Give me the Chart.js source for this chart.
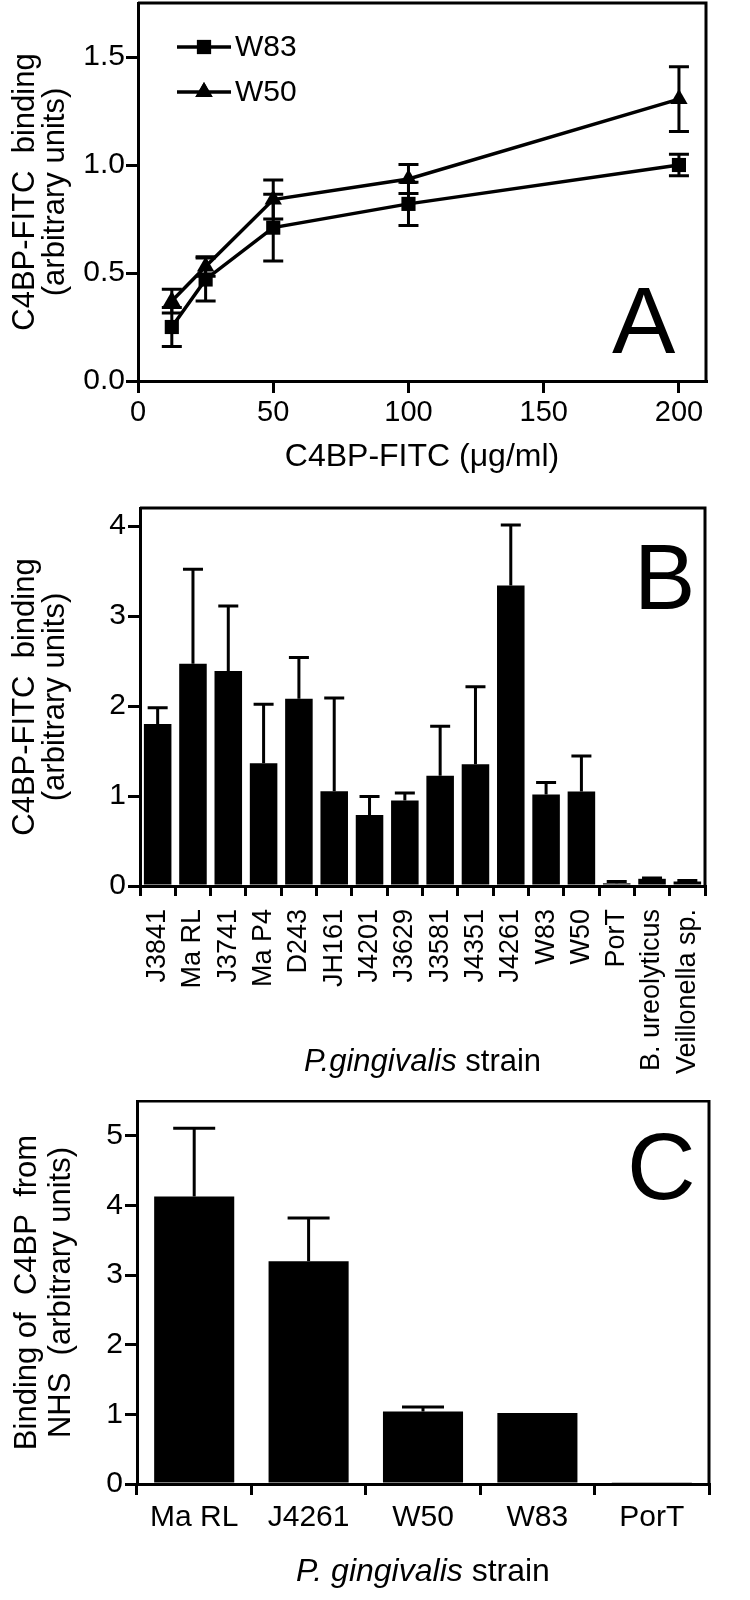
<!DOCTYPE html>
<html><head><meta charset="utf-8">
<script src="https://cdn.jsdelivr.net/npm/chart.js@4.4.0/dist/chart.umd.min.js"></script>
<style>
html,body{margin:0;padding:0;background:#fff;}
#wrap{position:relative;width:750px;height:1600px;background:#fff;}
canvas{position:absolute;left:0;}
</style></head><body>
<div id="wrap">
<canvas id="cA" width="750" height="480" style="top:0px"></canvas>
<canvas id="cB" width="750" height="620" style="top:480px"></canvas>
<canvas id="cC" width="750" height="500" style="top:1100px"></canvas>
</div>
<script>
// ---------- Panel A data ----------
const concA = [12.5, 25, 50, 100, 200];
const w83A = [0.25, 0.47, 0.71, 0.82, 1.00];
const w83ErrA = [0.09, 0.10, 0.155, 0.10, 0.05];
const w50A = [0.37, 0.53, 0.84, 0.935, 1.305];
const w50ErrA = [0.055, 0.045, 0.09, 0.067, 0.15];
const xTicksA = [0, 50, 100, 150, 200];
const yTicksA = [0, 0.5, 1.0, 1.5];
const yTickLabelsA = ['0.0', '0.5', '1.0', '1.5'];

// ---------- Panel B data ----------
const strainsB = ['J3841','Ma RL','J3741','Ma P4','D243','JH161','J4201','J3629','J3581','J4351','J4261','W83','W50','PorT','B. ureolyticus','Veillonella sp.'];
const bindB = [1.80, 2.47, 2.39, 1.365, 2.08, 1.054, 0.79, 0.95, 1.225, 1.353, 3.34, 1.018, 1.05, 0.03, 0.08, 0.05];
const errB  = [0.18, 1.05, 0.72, 0.655, 0.46, 1.036, 0.204, 0.084, 0.551, 0.862, 0.67, 0.132, 0.395, 0.02, 0.01, 0.01];
const yTicksB = [0, 1, 2, 3, 4];

// ---------- Panel C data ----------
const strainsC = ['Ma RL','J4261','W50','W83','PorT'];
const bindC = [4.13, 3.20, 1.04, 1.02, 0.026];
const errC  = [0.98, 0.62, 0.065, 0, 0];
const yTicksC = [0, 1, 2, 3, 4, 5];

const F = '"Liberation Sans", Arial, Helvetica, sans-serif';
const BLACK = '#000';

const boxPlugin = {
  id: 'box',
  afterDraw(chart) {
    const {ctx, chartArea: a} = chart;
    ctx.save();
    ctx.strokeStyle = BLACK; ctx.lineWidth = 3;
    ctx.beginPath();
    ctx.moveTo(a.left, a.top); ctx.lineTo(a.right, a.top); ctx.lineTo(a.right, a.bottom);
    ctx.stroke();
    ctx.restore();
  }
};

const errPlugin = {
  id: 'errbars',
  afterDatasetsDraw(chart) {
    const ctx = chart.ctx, ys = chart.scales.y;
    chart.data.datasets.forEach((ds, i) => {
      if (!ds.errors) return;
      const meta = chart.getDatasetMeta(i);
      ctx.save();
      ctx.strokeStyle = BLACK; ctx.lineWidth = 3;
      meta.data.forEach((el, j) => {
        const raw = ds.data[j];
        const v = (typeof raw === 'object') ? raw.y : raw;
        const e = ds.errors[j];
        if (!e) return;
        const x = el.x, c = ds.capHalf;
        const yTop = ys.getPixelForValue(v + e);
        const yBot = ds.errBoth ? ys.getPixelForValue(v - e) : ys.getPixelForValue(v);
        ctx.beginPath();
        ctx.moveTo(x, yTop); ctx.lineTo(x, yBot);
        ctx.moveTo(x - c, yTop); ctx.lineTo(x + c, yTop);
        if (ds.errBoth) { ctx.moveTo(x - c, yBot); ctx.lineTo(x + c, yBot); }
        ctx.stroke();
      });
      ctx.restore();
    });
  }
};

function drawSegs(ctx, segs, cx, cy) {
  let total = 0;
  segs.forEach(s => { ctx.font = s.font; total += ctx.measureText(s.t).width; });
  let x = cx - total / 2;
  ctx.textBaseline = 'middle'; ctx.textAlign = 'left'; ctx.fillStyle = BLACK;
  segs.forEach(s => { ctx.font = s.font; ctx.fillText(s.t, x, cy); x += ctx.measureText(s.t).width; });
}

function textPlugin(id, fn) {
  return { id, afterDraw(chart) { const ctx = chart.ctx; ctx.save(); fn(ctx, chart.chartArea, chart); ctx.restore(); } };
}

const axisCommon = (tickLen) => ({
  grid: { display: true, drawOnChartArea: false, color: BLACK, lineWidth: 3, tickLength: tickLen, tickWidth: 3, tickColor: BLACK },
  border: { display: true, color: BLACK, width: 3 }
});

function fitY(w) { return function (s) { s.width = w; s.paddingTop = 0; s.paddingBottom = 0; }; }
function fitX(h) { return function (s) { s.height = h; s.paddingLeft = 0; s.paddingRight = 0; s.paddingTop = 0; s.paddingBottom = 0; }; }

// ---------- Chart A ----------
new Chart(document.getElementById('cA'), {
  type: 'scatter',
  data: {
    datasets: [
      { label: 'W83', data: concA.map((x, i) => ({x, y: w83A[i]})), showLine: true, tension: 0,
        borderColor: BLACK, borderWidth: 3.5, pointStyle: 'rect', pointRadius: 10, pointHoverRadius: 10,
        pointBackgroundColor: BLACK, pointBorderColor: BLACK, pointBorderWidth: 0,
        errors: w83ErrA, errBoth: true, capHalf: 10 },
      { label: 'W50', data: concA.map((x, i) => ({x, y: w50A[i]})), showLine: true, tension: 0,
        borderColor: BLACK, borderWidth: 3.5, pointStyle: 'triangle', pointRadius: 10, pointHoverRadius: 10,
        pointBackgroundColor: BLACK, pointBorderColor: BLACK, pointBorderWidth: 0,
        errors: w50ErrA, errBoth: true, capHalf: 10 }
    ]
  },
  options: {
    responsive: false, animation: false, devicePixelRatio: 1,
    layout: { autoPadding: false, padding: { top: 3, right: 44, left: 0, bottom: 0 } },
    plugins: { legend: { display: false }, tooltip: { enabled: false } },
    scales: {
      x: Object.assign(axisCommon(12), {
        type: 'linear', min: 0, max: 210,
        afterBuildTicks(s) { s.ticks = xTicksA.map(v => ({value: v})); },
        ticks: { color: BLACK, font: { family: F, size: 29 }, padding: 3 },
        title: { display: true, text: 'C4BP-FITC (\u03bcg/ml)', color: BLACK, font: { family: F, size: 32 }, padding: { top: 0, bottom: 4 } },
        afterFit: fitX(99)
      }),
      y: Object.assign(axisCommon(12), {
        type: 'linear', min: 0, max: 1.75,
        afterBuildTicks(s) { s.ticks = yTicksA.map(v => ({value: v})); },
        ticks: { color: BLACK, font: { family: F, size: 30 }, padding: 1,
                 callback: (v, i) => yTickLabelsA[i] },
        title: { display: true, text: ['C4BP-FITC  binding', '(arbitrary units)'], color: BLACK,
                 font: { family: F, size: 31, lineHeight: 0.97 }, padding: { top: 10, bottom: 0 } },
        afterFit: fitY(138)
      })
    }
  },
  plugins: [boxPlugin, errPlugin, textPlugin('textsA', (ctx, a) => {
    ctx.fillStyle = BLACK;
    ctx.font = '95px ' + F; ctx.textBaseline = 'alphabetic'; ctx.textAlign = 'left';
    ctx.fillText('A', a.right - 94, a.bottom - 28);
    // legend
    const rows = [{t: 'W83', style: 'rect', y: 47}, {t: 'W50', style: 'triangle', y: 92}];
    rows.forEach(r => {
      ctx.strokeStyle = BLACK; ctx.lineWidth = 3.5;
      ctx.beginPath(); ctx.moveTo(177, r.y); ctx.lineTo(231, r.y); ctx.stroke();
      Chart.helpers.drawPoint(ctx, { pointStyle: r.style, radius: 10, borderWidth: 0 }, 204, r.y);
      ctx.fillStyle = BLACK; ctx.fill();
      ctx.font = '30px ' + F; ctx.textBaseline = 'middle'; ctx.textAlign = 'left';
      ctx.fillText(r.t, 235, r.y + 1);
    });
  })]
});

// ---------- Chart B ----------
new Chart(document.getElementById('cB'), {
  type: 'bar',
  data: {
    labels: strainsB,
    datasets: [{ data: bindB, backgroundColor: BLACK, borderWidth: 0, barPercentage: 0.78, categoryPercentage: 1,
                 errors: errB, capHalf: 10 }]
  },
  options: {
    responsive: false, animation: false, devicePixelRatio: 1,
    layout: { autoPadding: false, padding: { top: 28, right: 45, left: 0, bottom: 0 } },
    plugins: { legend: { display: false }, tooltip: { enabled: false } },
    scales: {
      x: Object.assign(axisCommon(10), {
        ticks: { color: BLACK, font: { family: F, size: 27 }, minRotation: 90, maxRotation: 90, padding: 13, autoSkip: false },
        afterFit: fitX(214)
      }),
      y: Object.assign(axisCommon(12), {
        min: 0, max: 4.2,
        afterBuildTicks(s) { s.ticks = yTicksB.map(v => ({value: v})); },
        ticks: { color: BLACK, font: { family: F, size: 30 }, padding: 2 },
        title: { display: true, text: ['C4BP-FITC  binding', '(arbitrary units)'], color: BLACK,
                 font: { family: F, size: 31, lineHeight: 0.97 }, padding: { top: 10, bottom: 0 } },
        afterFit: fitY(140)
      })
    }
  },
  plugins: [boxPlugin, errPlugin, textPlugin('textsB', (ctx, a) => {
    ctx.fillStyle = BLACK;
    ctx.font = '92px ' + F; ctx.textBaseline = 'alphabetic'; ctx.textAlign = 'left';
    ctx.fillText('B', a.right - 71, a.top + 101);
    drawSegs(ctx, [{t: 'P.gingivalis', font: 'italic 31px ' + F}, {t: ' strain', font: '31px ' + F}],
             (a.left + a.right) / 2, a.bottom + 176);
  })]
});

// ---------- Chart C ----------
new Chart(document.getElementById('cC'), {
  type: 'bar',
  data: {
    labels: strainsC,
    datasets: [{ data: bindC, backgroundColor: BLACK, borderWidth: 0, barPercentage: 0.7, categoryPercentage: 1,
                 errors: errC, capHalf: 21 }]
  },
  options: {
    responsive: false, animation: false, devicePixelRatio: 1,
    layout: { autoPadding: false, padding: { top: 1, right: 41, left: 0, bottom: 0 } },
    plugins: { legend: { display: false }, tooltip: { enabled: false } },
    scales: {
      x: Object.assign(axisCommon(11), {
        ticks: { color: BLACK, font: { family: F, size: 30 }, maxRotation: 0, padding: 5, autoSkip: false },
        afterFit: fitX(116)
      }),
      y: Object.assign(axisCommon(12), {
        min: 0, max: 5.5,
        afterBuildTicks(s) { s.ticks = yTicksC.map(v => ({value: v})); },
        ticks: { color: BLACK, font: { family: F, size: 30 }, padding: 2 },
        title: { display: true, text: ['Binding of  C4BP  from', 'NHS  (arbitrary units)'], color: BLACK,
                 font: { family: F, size: 31, lineHeight: 1.1 }, padding: { top: 10, bottom: 0 } },
        afterFit: fitY(137)
      })
    }
  },
  plugins: [boxPlugin, errPlugin, textPlugin('textsC', (ctx, a) => {
    ctx.fillStyle = BLACK;
    ctx.font = '95px ' + F; ctx.textBaseline = 'alphabetic'; ctx.textAlign = 'left';
    ctx.fillText('C', a.right - 82, a.top + 98);
    drawSegs(ctx, [{t: 'P. gingivalis', font: 'italic 32px ' + F}, {t: ' strain', font: '32px ' + F}],
             (a.left + a.right) / 2, a.bottom + 88);
  })]
});
</script>
</body></html>
